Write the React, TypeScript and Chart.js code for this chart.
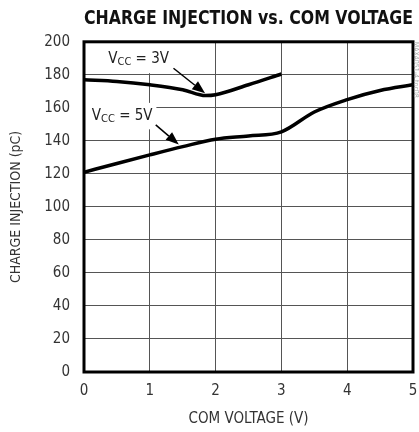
import React, { useEffect, useRef } from "react";
import { Chart, registerables } from "chart.js";

Chart.register(...registerables);

const FONT = "'Liberation Sans Narrow', 'DejaVu Sans Condensed', 'Arial Narrow', sans-serif";

const TITLE = "CHARGE INJECTION vs. COM VOLTAGE";
const X_TITLE = "COM VOLTAGE (V)";
const Y_TITLE = "CHARGE INJECTION (pC)";
const SIDE_NOTE = "MAX4051-4 toc08";

const vcc3X = [0, 0.5, 1, 1.5, 1.85, 2, 2.5, 3];
const vcc3Y = [177, 176, 174, 171, 167.4, 167.9, 174, 180.5];

const vcc5X = [0, 0.5, 1, 1.5, 2, 2.5, 3, 3.5, 4, 4.5, 5];
const vcc5Y = [121, 126.3, 131.5, 136.5, 141, 143, 145.5, 157.5, 165, 170.5, 174];

// annotations in data coordinates: label centre, arrow tail, arrow head
const notes = [
  { sub: "CC", pre: "V", post: " = 3V", at: [0.83, 190], tail: [1.36, 184], head: [1.84, 168.8], box: [0.2, 200, 1.4, 181] },
  { sub: "CC", pre: "V", post: " = 5V", at: [0.58, 155.5], tail: [1.09, 149.7], head: [1.44, 137.8], box: [0, 163, 1.1, 147] },
];

const toPts = (xs: number[], ys: number[]) => xs.map((x, i) => ({ x, y: ys[i] }));

const framePlugin = {
  id: "frameNotes",
  beforeDatasetsDraw(chart: any) {
    const { ctx, scales } = chart;
    const x = scales.x, y = scales.y;
    ctx.save();
    ctx.fillStyle = "#fff";
    for (const n of notes) {
      const l = x.getPixelForValue(n.box[0]);
      const t = y.getPixelForValue(n.box[1]);
      const r = x.getPixelForValue(n.box[2]);
      const b = y.getPixelForValue(n.box[3]);
      ctx.fillRect(l, t, r - l, b - t);
    }
    ctx.restore();
  },
  afterDraw(chart: any) {
    const { ctx, chartArea, scales } = chart;
    const x = scales.x, y = scales.y;
    ctx.save();
    // frame
    ctx.strokeStyle = "#000";
    ctx.lineWidth = 3;
    ctx.strokeRect(chartArea.left, chartArea.top, chartArea.right - chartArea.left, chartArea.bottom - chartArea.top);
    // notes
    for (const n of notes) {
      const cx = x.getPixelForValue(n.at[0]);
      const cy = y.getPixelForValue(n.at[1]);
      ctx.fillStyle = "#222";
      ctx.textBaseline = "alphabetic";
      ctx.font = `15px ${FONT}`;
      const w1 = ctx.measureText(n.pre).width;
      const w3 = ctx.measureText(n.post).width;
      ctx.font = `11px ${FONT}`;
      const w2 = ctx.measureText(n.sub).width;
      let sx = cx - (w1 + w2 + w3) / 2;
      const base = cy + 5;
      ctx.font = `15px ${FONT}`;
      ctx.textAlign = "left";
      ctx.fillText(n.pre, sx, base);
      sx += w1;
      ctx.font = `11px ${FONT}`;
      ctx.fillText(n.sub, sx, base + 2);
      sx += w2;
      ctx.font = `15px ${FONT}`;
      ctx.fillText(n.post, sx, base);
      // arrow
      const tx = x.getPixelForValue(n.tail[0]);
      const ty = y.getPixelForValue(n.tail[1]);
      const hx = x.getPixelForValue(n.head[0]);
      const hy = y.getPixelForValue(n.head[1]);
      const ang = Math.atan2(hy - ty, hx - tx);
      const len = 13, half = 5;
      const bx = hx - len * Math.cos(ang), by = hy - len * Math.sin(ang);
      ctx.strokeStyle = "#000";
      ctx.lineWidth = 1.5;
      ctx.beginPath();
      ctx.moveTo(tx, ty);
      ctx.lineTo(bx, by);
      ctx.stroke();
      ctx.fillStyle = "#000";
      ctx.beginPath();
      ctx.moveTo(hx, hy);
      ctx.lineTo(bx + half * Math.sin(ang), by - half * Math.cos(ang));
      ctx.lineTo(bx - half * Math.sin(ang), by + half * Math.cos(ang));
      ctx.closePath();
      ctx.fill();
    }
    // side note
    ctx.translate(chartArea.right + 3, chartArea.top + 28);
    ctx.rotate(Math.PI / 2);
    ctx.font = `7px ${FONT}`;
    ctx.fillStyle = "#aaa";
    ctx.textAlign = "center";
    ctx.textBaseline = "middle";
    ctx.fillText(SIDE_NOTE, 0, 0);
    ctx.restore();
  },
};

export default function App() {
  const ref = useRef<HTMLCanvasElement>(null);
  useEffect(() => {
    document.body.style.margin = "0";
    const chart = new Chart(ref.current!, {
      type: "line",
      data: {
        datasets: [
          { label: "VCC = 3V", data: toPts(vcc3X, vcc3Y), borderColor: "#000", borderWidth: 3.5, pointRadius: 0, cubicInterpolationMode: "monotone", fill: false },
          { label: "VCC = 5V", data: toPts(vcc5X, vcc5Y), borderColor: "#000", borderWidth: 3.5, pointRadius: 0, cubicInterpolationMode: "monotone", fill: false },
        ],
      },
      options: {
        responsive: false,
        animation: false,
        layout: { autoPadding: false, padding: { right: 6, left: 0, bottom: 0, top: 0 } },
        plugins: {
          legend: { display: false },
          tooltip: { enabled: false },
          title: {
            display: true,
            text: TITLE,
            fullSize: false,
            color: "#111",
            font: { family: FONT, size: 19, weight: "bold" },
            padding: { top: 8, bottom: 11 },
          },
        },
        scales: {
          x: {
            type: "linear",
            min: 0,
            max: 5,
            ticks: { stepSize: 1, color: "#333", font: { family: FONT, size: 15 }, padding: 10 },
            grid: { color: "#555", lineWidth: 1, drawTicks: false },
            border: { display: false },
            title: { display: true, text: X_TITLE, color: "#333", font: { family: FONT, size: 15 }, padding: { top: 6 } },
            afterFit: (s: any) => { s.height = 60; s.paddingLeft = 0; s.paddingRight = 0; },
          },
          y: {
            min: 0,
            max: 200,
            ticks: { stepSize: 20, color: "#333", font: { family: FONT, size: 15 }, padding: 14 },
            grid: { color: "#555", lineWidth: 1, drawTicks: false },
            border: { display: false },
            title: { display: true, text: Y_TITLE, color: "#333", font: { family: FONT, size: 14 }, padding: { top: 8, bottom: 6 } },
            afterFit: (s: any) => { s.width = 84; },
          },
        },
      },
      plugins: [framePlugin],
    } as any);
    return () => chart.destroy();
  }, []);
  return (
    <div style={{ width: 419, height: 432 }}>
      <canvas ref={ref} width={419} height={432} />
    </div>
  );
}
